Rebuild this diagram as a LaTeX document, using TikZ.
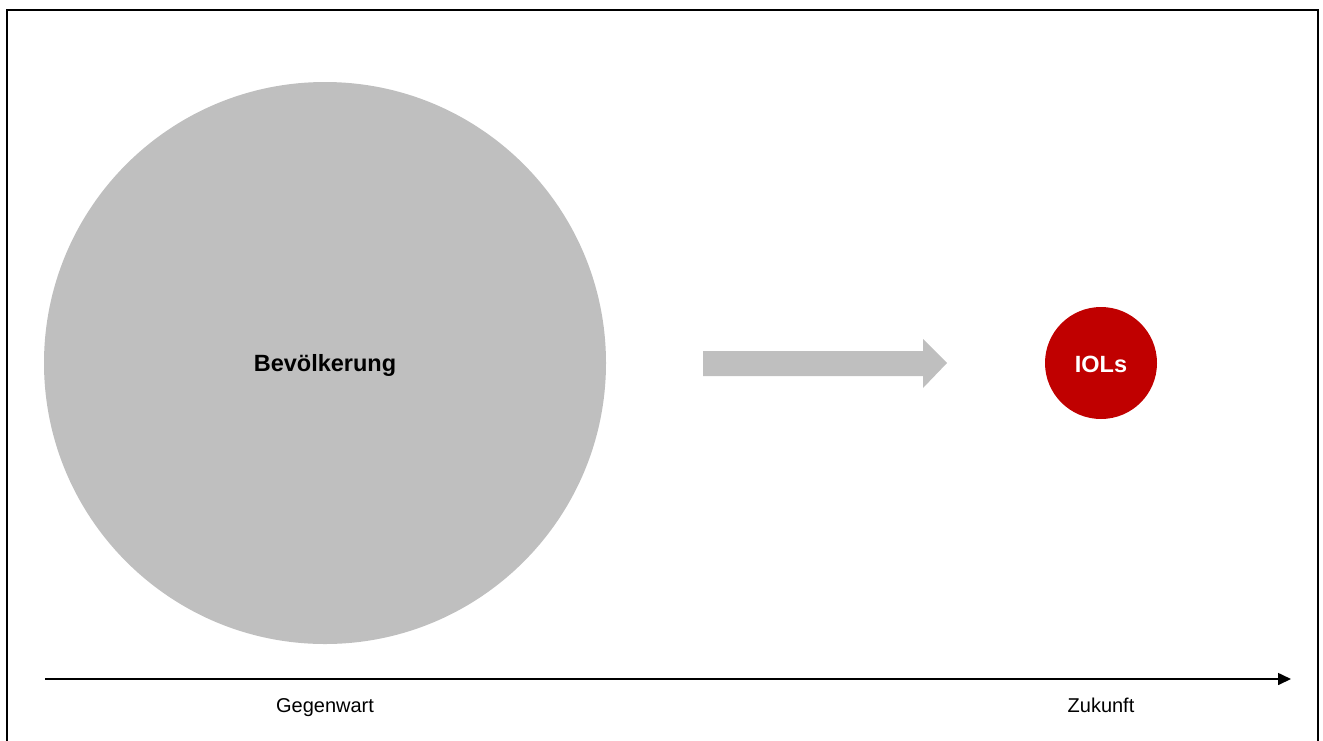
\documentclass[tikz,border=0pt]{standalone}
\usepackage{fontspec}
\setmainfont{Liberation Sans}
\usetikzlibrary{arrows.meta}
\definecolor{popgray}{HTML}{BFBFBF}
\definecolor{iolred}{HTML}{C00000}

\begin{document}
\begin{tikzpicture}[x=1pt,y=-1pt]
	%%%%% START %%%%%
	
	\clip (0,0) rectangle (1323,740);
	\draw[line width=2pt] (7,10) rectangle (1318,770);
	
	\node[circle, fill=popgray, minimum size=562pt, inner sep=0pt, text height=16pt, text depth=0pt, font=\fontsize{23.5}{27}\selectfont\bfseries] (pop) at (325,363) {Bevölkerung};
	\node[circle, fill=iolred, text=white, minimum size=112pt, inner sep=0pt, text height=18pt, text depth=0pt, font=\fontsize{23.5}{27}\selectfont\bfseries] (iols) at (1101,363) {IOLs};
	
	\fill[popgray] (703,351) -- (923,351) -- (923,339) -- (947,363) -- (923,388) -- (923,376) -- (703,376) -- cycle;
	
	\coordinate (tstart) at (45,679);
	\coordinate (tend) at (1291,679);
	\draw[line width=1.6pt, -{Triangle[length=13pt,width=12pt]}] (tstart) -- (tend);
	
	\node[anchor=base, font=\fontsize{20}{24}\selectfont] (now) at (325,712) {Gegenwart};
	\node[anchor=base, font=\fontsize{20}{24}\selectfont] (future) at (1101,712) {Zukunft};
	
	%%%%% END %%%%%
\end{tikzpicture}
\end{document}
